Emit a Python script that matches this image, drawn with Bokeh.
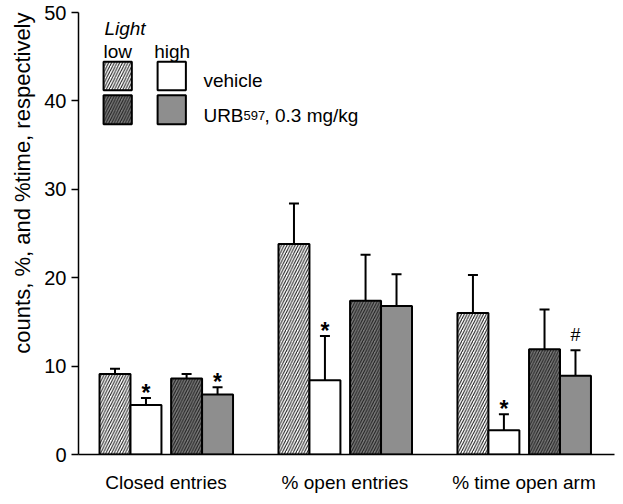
from bokeh.plotting import figure
from bokeh.models import Range1d, FixedTicker, Whisker, TeeHead, ColumnDataSource, Label, Title
from bokeh.core.properties import value
from bokeh.embed import file_html
from bokeh.resources import INLINE

# ---- data ----
groups = ["Closed entries", "% open entries", "% time open arm"]
vehicle_low = [9.1, 23.8, 16.0]
vehicle_low_sem = [0.6, 4.6, 4.3]
vehicle_high = [5.6, 8.4, 2.75]
vehicle_high_sem = [0.8, 5.0, 1.8]
urb_low = [8.6, 17.4, 11.9]
urb_low_sem = [0.5, 5.2, 4.5]
urb_high = [6.8, 16.8, 8.9]
urb_high_sem = [0.8, 3.6, 2.9]
vehicle_low_sig = ["", "", ""]
vehicle_high_sig = ["*", "*", "*"]
urb_low_sig = ["", "", ""]
urb_high_sig = ["*", "", "#"]
y_ticks = [0, 10, 20, 30, 40, 50]

FONT = "Liberation Sans"

p = figure(frame_width=536, frame_height=442, x_range=Range1d(0.511, 3.506), y_range=Range1d(0, 50),
           output_backend="svg", toolbar_location=None,
           min_border_left=78, min_border_right=5, min_border_top=12, min_border_bottom=44)
p.outline_line_color = None
p.xgrid.visible = False
p.ygrid.visible = False

BAR_W = 0.173
series = [
    (vehicle_low, vehicle_low_sem, vehicle_low_sig, -0.285, dict(fill_color="white", hatch_pattern="/", hatch_color="#111111")),
    (vehicle_high, vehicle_high_sem, vehicle_high_sig, -0.112, dict(fill_color="white")),
    (urb_low, urb_low_sem, urb_low_sig, 0.115, dict(fill_color="#7a7a7a", hatch_pattern="/", hatch_color="#1a1a1a")),
    (urb_high, urb_high_sem, urb_high_sig, 0.288, dict(fill_color="#8e8e8e")),
]
sig_pad = {"*": 0.55, "#": 1.7, "": 0.0}

for vals, sems, sigs, off, style in series:
    xs = [i + 1 + off for i in range(len(groups))]
    kw = dict(style)
    if "hatch_pattern" in kw:
        kw.update(hatch_scale=5.5, hatch_weight=1.0)
    p.vbar(x=xs, top=vals, bottom=0, width=BAR_W, line_color="black", line_width=2, **kw)
    src = ColumnDataSource(dict(base=xs, lower=vals, upper=[v + s for v, s in zip(vals, sems)]))
    p.add_layout(Whisker(base="base", lower="lower", upper="upper", source=src,
                         line_color="black", line_width=2, lower_head=None,
                         upper_head=TeeHead(size=10, line_color="black", line_width=2)))
    tx = [x for x, s in zip(xs, sigs) if s]
    ty = [v + e + sig_pad[s] for v, e, s in zip(vals, sems, sigs) if s]
    tt = [s for s in sigs if s]
    if tt:
        sizes = ["23px" if s == "*" else "18px" for s in tt]
        styles = ["bold" if s == "*" else "normal" for s in tt]
        p.text(x=tx, y=ty, text=tt, text_font=value(FONT), text_font_size=sizes,
               text_font_style=styles, text_align="center", text_baseline="alphabetic",
               text_color="black")

# axes
p.yaxis.ticker = FixedTicker(ticks=y_ticks)
p.yaxis.minor_tick_line_color = None
p.yaxis.major_tick_out = 7
p.yaxis.major_tick_in = 0
p.yaxis.major_tick_line_width = 1.5
p.yaxis.axis_line_width = 1.5
p.yaxis.major_label_standoff = 5
p.yaxis.major_label_text_font = FONT
p.yaxis.major_label_text_font_size = "20px"
p.yaxis.major_label_text_color = "black"

p.xaxis.ticker = FixedTicker(ticks=[1, 2, 3])
p.xaxis.major_label_overrides = {i + 1: g for i, g in enumerate(groups)}
p.xaxis.major_tick_line_color = None
p.xaxis.minor_tick_line_color = None
p.xaxis.axis_line_width = 1.5
p.xaxis.major_label_standoff = 11
p.xaxis.major_label_text_font = FONT
p.xaxis.major_label_text_font_size = "19px"
p.xaxis.major_label_text_color = "black"

# y axis title, aligned toward the top like the original
p.add_layout(Title(text="counts, %, and %time, respectively", align="right",
                   text_font=FONT, text_font_size="22px", text_font_style="normal",
                   text_color="black", standoff=13), "left")

# legend (custom layout)
p.quad(left=[0.651, 0.953, 0.651, 0.953], right=[0.809, 1.111, 0.809, 1.111],
       top=[44.42, 44.42, 40.64, 40.64], bottom=[41.21, 41.21, 37.36, 37.36],
       fill_color=["white", "white", "#7a7a7a", "#8e8e8e"],
       hatch_pattern=["/", " ", "/", " "], hatch_color=["#111111", "#111111", "#1a1a1a", "#1a1a1a"],
       hatch_scale=5.5, hatch_weight=1.0, line_color="black", line_width=2)

def lab(x, y, text, size="19px", style="normal", x_offset=0):
    p.add_layout(Label(x=x, y=y, text=text, x_offset=x_offset, text_font=FONT, text_font_size=size,
                       text_font_style=style, text_baseline="alphabetic", text_align="left",
                       text_color="black"))

lab(0.656, 48.19, "Light", style="italic")
lab(0.651, 45.55, "low")
lab(0.934, 45.55, "high")
lab(1.209, 42.34, "vehicle")
lab(1.209, 38.38, "URB")
lab(1.209, 38.38, "597", size="13px", x_offset=40)
lab(1.209, 38.38, ", 0.3 mg/kg", x_offset=61)

open("out.html", "w").write(file_html(p, INLINE))
